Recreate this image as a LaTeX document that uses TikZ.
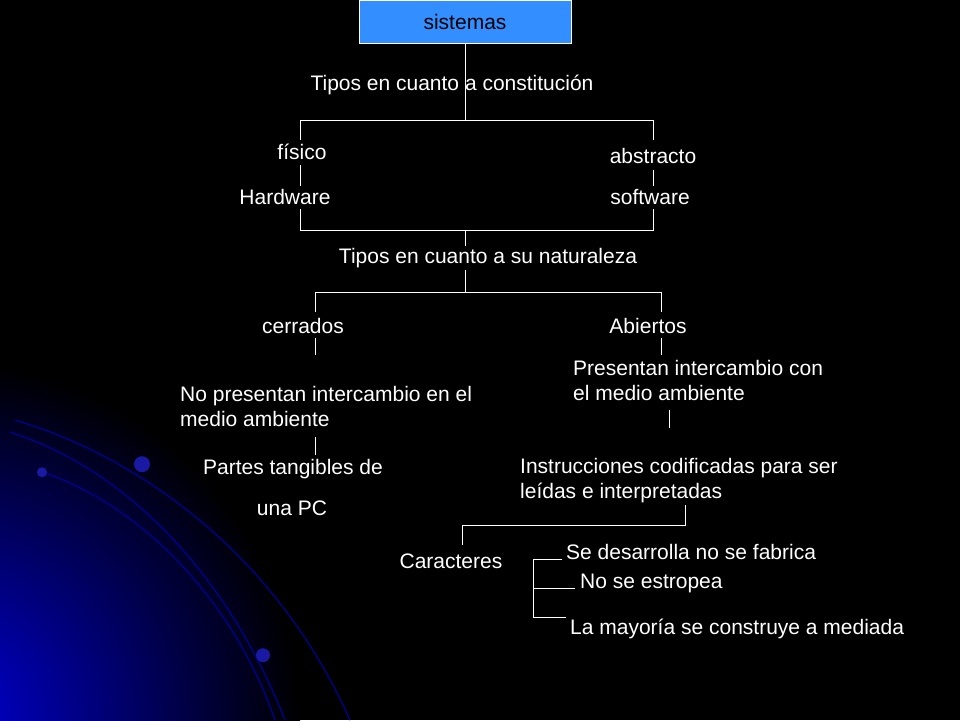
\documentclass[tikz,border=0pt]{standalone}
\usepackage{fontspec}
\setmainfont{Liberation Sans}
\begin{document}
\begin{tikzpicture}[x=1pt,y=-1pt,font=\fontsize{21}{25}\selectfont]
\colorlet{Sky}{blue!55!cyan!80!white}
\colorlet{Arc}{blue!60!black}
\tikzset{txt/.style={text=white,inner sep=0pt},
	lin/.style={white,line width=0.7pt}}
%% Background
\fill[black] (0,0) rectangle (960,720);
\begin{scope}
\clip (0,0) rectangle (960,720);
\shade[inner color=blue!85!black,outer color=black] (-60,720) circle[radius=360];
\end{scope}
\draw[Arc,line width=1.2pt] (15,420) .. controls (120,450) and (270,540) .. (350,720);
\draw[Arc,line width=1.2pt] (10,432) .. controls (130,470) and (230,580) .. (285,720);
\draw[Arc,line width=1.2pt] (42,472) .. controls (130,500) and (230,590) .. (275,720);
\fill[Arc!90!white] (42,472) circle[radius=5];
\fill[Arc!90!white] (142,464) circle[radius=8];
\fill[Arc!90!white] (263,655) circle[radius=7];
%% Root
\node[draw=white,fill=Sky,minimum width=212,minimum height=43,inner sep=0pt] (sis) at (465,21.5) {sistemas};
%% Constitution
\node[txt] (tc) at (452,85) {Tipos en cuanto a constitución};
\coordinate (t1) at (465,120);
\draw[lin] (sis.south) -- (t1);
\node[txt] (fis) at (302,152) {físico};
\node[txt] (abs) at (653,156) {abstracto};
\draw[lin] (300,140) -- (300,120) -- (653,120) -- (653,140);
\node[txt] (hw) at (285,197) {Hardware};
\node[txt] (sw) at (650,197) {software};
\draw[lin] (300,165) -- (300,186);
\draw[lin] (653,170) -- (653,186);
\draw[lin] (300,209) -- (300,230) -- (653,230) -- (653,209);
\node[txt] (tn) at (488,258) {Tipos en cuanto a su naturaleza};
\draw[lin] (465,230) -- (465,246);
\draw[lin] (465,270) -- (465,292);
\draw[lin] (315,312) -- (315,292) -- (661,292) -- (661,312);
%% Nature
\node[txt] (cer) at (303,326) {cerrados};
\node[txt] (abi) at (648,326) {Abiertos};
\draw[lin] (315,338) -- (315,355);
\draw[lin] (661,338) -- (661,355);
\node[txt,anchor=north west,align=left] (pre) at (573,360) {Presentan intercambio con\\el medio ambiente};
\node[txt,anchor=north west,align=left] (nopre) at (180,386) {No presentan intercambio en el\\medio ambiente};
\draw[lin] (669,410) -- (669,428);
\draw[lin] (315,437) -- (315,455);
\node[txt] (par) at (293,469) {Partes tangibles de};
\node[txt] (pc) at (292,508) {una PC};
\node[txt,anchor=north west,align=left] (ins) at (520,458) {Instrucciones codificadas para ser\\leídas e interpretadas};
\draw[lin] (685,505) -- (685,525) -- (462,525) -- (462,545);
%% Caracteres
\node[txt] (car) at (451,561) {Caracteres};
\node[txt,anchor=west] (c1) at (566,552) {Se desarrolla no se fabrica};
\node[txt,anchor=west] (c2) at (580,583) {No se estropea};
\node[txt,anchor=west] (c3) at (570,629) {La mayoría se construye a mediada};
\draw[lin] (562,559) -- (533,559) -- (533,617) -- (566,617);
\draw[lin] (533,588) -- (575,588);
\end{tikzpicture}
\end{document}
